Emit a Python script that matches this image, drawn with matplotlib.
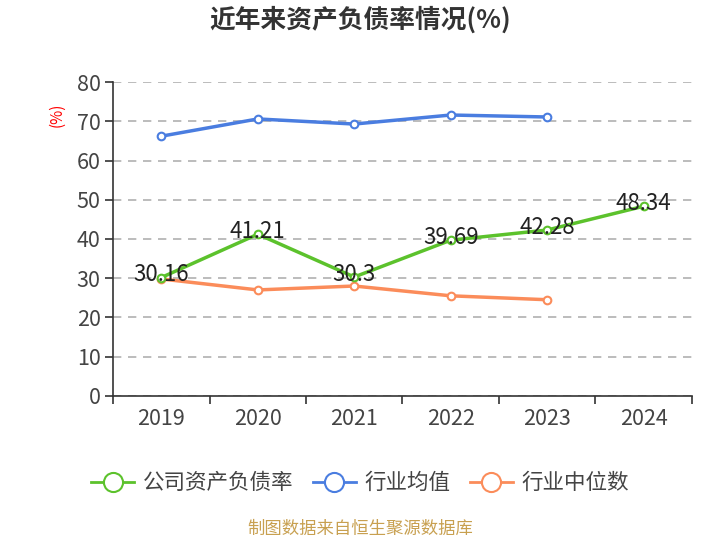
import matplotlib
matplotlib.use("Agg")
import matplotlib.pyplot as plt
import numpy as np

plt.rcParams['font.family'] = ['Noto Sans CJK SC', 'DejaVu Sans']

"""Chart data"""
years = ['2019', '2020', '2021', '2022', '2023', '2024']
company = [30.16, 41.21, 30.3, 39.69, 42.28, 48.34]
industry_avg = [66.2, 70.6, 69.3, 71.6, 71.1]
industry_median = [29.8, 27.0, 28.0, 25.5, 24.5]
y_ticks = [0, 10, 20, 30, 40, 50, 60, 70, 80]

GREEN = '#5cc22c'
BLUE = '#4a7de0'
ORANGE = '#fb8c5a'

fig = plt.figure(figsize=(7.2, 5.4), dpi=100)
ax = fig.add_axes([0.157, 0.267, 0.804, 0.581])

x = np.arange(len(years))
line_kw = dict(lw=2.5, marker='o', ms=5.5, mfc='white', mew=1.5, zorder=3)
ax.plot(x[:len(industry_avg)], industry_avg, color=BLUE, label='行业均值', **line_kw)
ax.plot(x[:len(industry_median)], industry_median, color=ORANGE, label='行业中位数', **line_kw)
ax.plot(x, company, color=GREEN, label='公司资产负债率', **line_kw)

for xi, v in zip(x, company):
    ax.annotate(f'{v:g}', (xi, v), xytext=(0, 2), textcoords='offset points',
                ha='center', va='center', fontsize=16, color='#222222', zorder=4)

ax.set_xlim(-0.5, len(years) - 0.5)
ax.set_ylim(0, 80)
ax.set_yticks(y_ticks)
ax.set_xticks(x)
ax.set_xticklabels(years)
ax.set_xticks(np.arange(-0.5, len(years), 1), minor=True)
ax.tick_params(axis='x', which='major', length=0, labelsize=15.5, colors='#444444', pad=9)
ax.tick_params(axis='x', which='minor', length=6, width=1.2, color='#333333')
ax.tick_params(axis='y', length=6, width=1.2, color='#333333', labelsize=15.5,
               labelcolor='#444444', pad=3)

ax.grid(axis='y', linestyle=(0, (5, 4)), color='#b0b0b0', lw=1.2)
ax.set_axisbelow(True)
for s in ['top', 'right']:
    ax.spines[s].set_visible(False)
for s in ['left', 'bottom']:
    ax.spines[s].set_color('#333333')
    ax.spines[s].set_linewidth(1.2)

fig.text(0.079, 0.787, '(%)', color='red', fontsize=11, rotation=90, ha='center', va='center')
fig.text(0.5, 0.962, '近年来资产负债率情况(%)', fontsize=18.5, fontweight='bold',
         color='#333333', ha='center', va='center')

handles, labels = ax.get_legend_handles_labels()
order = [2, 0, 1]
leg = fig.legend([handles[i] for i in order], [labels[i] for i in order],
                 loc='center', bbox_to_anchor=(0.5, 0.105), ncol=3, frameon=False,
                 fontsize=15.5, handlelength=2.0, columnspacing=0.9, handletextpad=0.4,
                 markerscale=2.5)
for t in leg.get_texts():
    t.set_color('#444444')
for h in leg.legend_handles:
    h.set_linewidth(2)

fig.text(0.5, 0.02, '制图数据来自恒生聚源数据库', color='#c8a050', fontsize=12.5,
         ha='center', va='center')

fig.savefig('out.png', dpi=100)
